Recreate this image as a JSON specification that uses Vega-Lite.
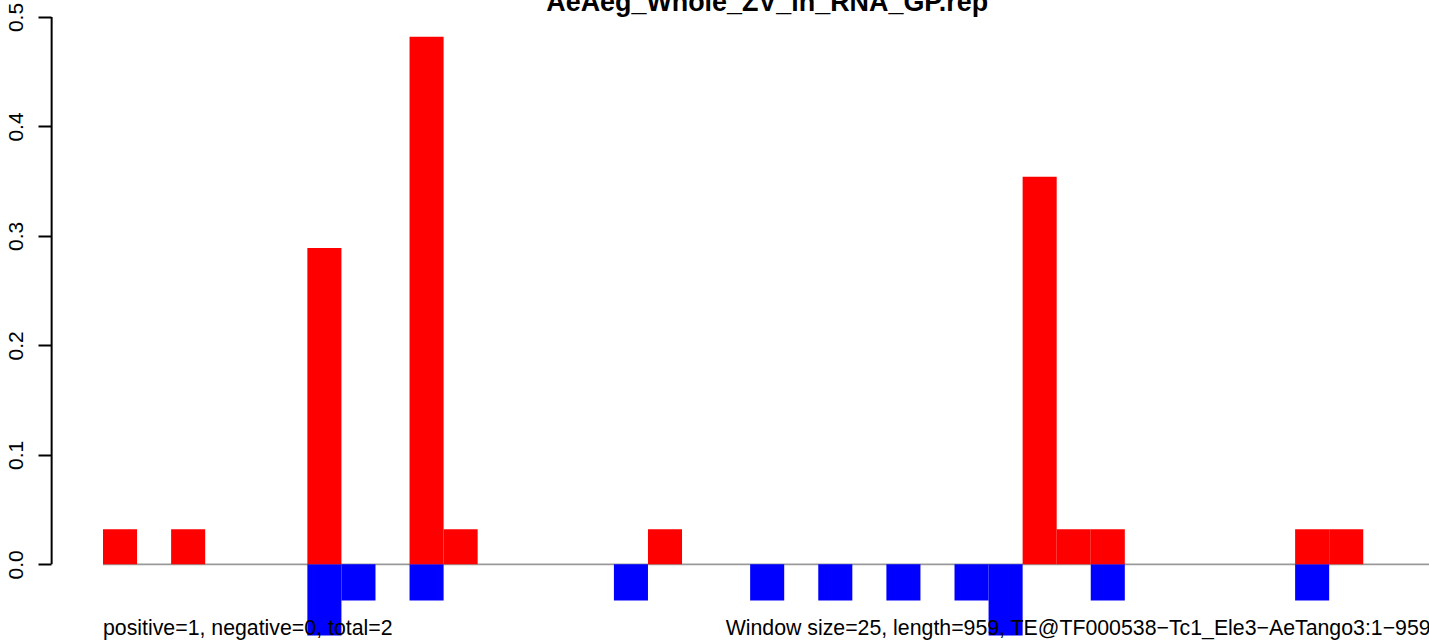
{
  "$schema": "https://vega.github.io/schema/vega-lite/v6.json",
  "autosize": {"type": "none"},
  "padding": {"left": 51, "top": 17, "right": 0, "bottom": 0},
  "width": 1378,
  "height": 624,
  "background": "white",
  "config": {"view": {"stroke": null}, "font": "Liberation Sans"},
  "datasets": {
    "bars": [
      {"start": 0, "end": 25, "value": 0.032, "strand": "pos"},
      {"start": 50, "end": 75, "value": 0.032, "strand": "pos"},
      {"start": 150, "end": 175, "value": 0.289, "strand": "pos"},
      {"start": 225, "end": 250, "value": 0.482, "strand": "pos"},
      {"start": 250, "end": 275, "value": 0.032, "strand": "pos"},
      {"start": 400, "end": 425, "value": 0.032, "strand": "pos"},
      {"start": 675, "end": 700, "value": 0.354, "strand": "pos"},
      {"start": 700, "end": 725, "value": 0.032, "strand": "pos"},
      {"start": 725, "end": 750, "value": 0.032, "strand": "pos"},
      {"start": 875, "end": 900, "value": 0.032, "strand": "pos"},
      {"start": 900, "end": 925, "value": 0.032, "strand": "pos"},
      {"start": 150, "end": 175, "value": -0.065, "strand": "neg"},
      {"start": 175, "end": 200, "value": -0.033, "strand": "neg"},
      {"start": 225, "end": 250, "value": -0.033, "strand": "neg"},
      {"start": 375, "end": 400, "value": -0.033, "strand": "neg"},
      {"start": 475, "end": 500, "value": -0.033, "strand": "neg"},
      {"start": 525, "end": 550, "value": -0.033, "strand": "neg"},
      {"start": 575, "end": 600, "value": -0.033, "strand": "neg"},
      {"start": 625, "end": 650, "value": -0.033, "strand": "neg"},
      {"start": 650, "end": 675, "value": -0.065, "strand": "neg"},
      {"start": 725, "end": 750, "value": -0.033, "strand": "neg"},
      {"start": 875, "end": 900, "value": -0.033, "strand": "neg"}
    ],
    "baseline": [{"x0": 0, "x1": 973.27, "y0": 0}],
    "axisline": [{"x0": -37.7, "y0": 0, "y1": 0.5}],
    "labels": [
      {"pos": 0, "y": -0.0649, "label": "positive=1, negative=0, total=2"},
      {"pos": 457, "y": -0.0649, "label": "Window size=25, length=959, TE@TF000538−Tc1_Ele3−AeTango3:1−959"}
    ],
    "title": [
      {"pos": 487.5, "y": 0.5055, "label": "AeAeg_Whole_ZV_in_RNA_GP.rep"}
    ]
  },
  "layer": [
    {
      "data": {"name": "baseline"},
      "mark": {"type": "rule", "color": "#9a9a9a", "strokeWidth": 1.8},
      "encoding": {
        "x": {"field": "x0", "type": "quantitative", "scale": {"domain": [-38.17, 973.27], "nice": false, "zero": false}, "axis": null},
        "x2": {"field": "x1"},
        "y": {"field": "y0", "type": "quantitative", "scale": {"domain": [-0.07, 0.5], "nice": false, "zero": false},
          "axis": {"values": [0, 0.1, 0.2, 0.3, 0.4, 0.5], "format": ".1f", "title": null, "domain": false, "grid": false,
            "ticks": true, "tickSize": 13, "tickColor": "#000000", "tickWidth": 2,
            "labelAngle": 270, "labelAlign": "center",
            "labelBaseline": "alphabetic", "labelPadding": 16, "labelFontSize": 21, "labelColor": "black",
            "labelFont": "Liberation Sans", "labelOverlap": false, "labelFlush": false, "labelBound": false}}
      }
    },
    {
      "data": {"name": "bars"},
      "mark": {"type": "rect"},
      "encoding": {
        "x": {"field": "start", "type": "quantitative"},
        "x2": {"field": "end"},
        "y": {"field": "value", "type": "quantitative"},
        "y2": {"datum": 0},
        "color": {"field": "strand", "type": "nominal", "scale": {"domain": ["pos", "neg"], "range": ["#ff0000", "#0000ff"]}, "legend": null},
        "order": {"field": "strand", "sort": "ascending"}
      }
    },
    {
      "data": {"name": "labels"},
      "mark": {"type": "text", "align": "left", "baseline": "alphabetic", "fontSize": 21.3, "font": "Liberation Sans", "color": "black"},
      "encoding": {
        "x": {"field": "pos", "type": "quantitative"},
        "y": {"field": "y", "type": "quantitative"},
        "text": {"field": "label"}
      }
    },
    {
      "data": {"name": "title"},
      "mark": {"type": "text", "align": "center", "baseline": "alphabetic", "fontSize": 26.9, "fontWeight": "bold", "font": "Liberation Sans", "color": "black"},
      "encoding": {
        "x": {"field": "pos", "type": "quantitative"},
        "y": {"field": "y", "type": "quantitative"},
        "text": {"field": "label"}
      }
    },
    {
      "data": {"name": "axisline"},
      "mark": {"type": "rule", "color": "#000000", "strokeWidth": 2},
      "encoding": {
        "x": {"field": "x0", "type": "quantitative"},
        "y": {"field": "y0", "type": "quantitative"},
        "y2": {"field": "y1"}
      }
    }
  ]
}
